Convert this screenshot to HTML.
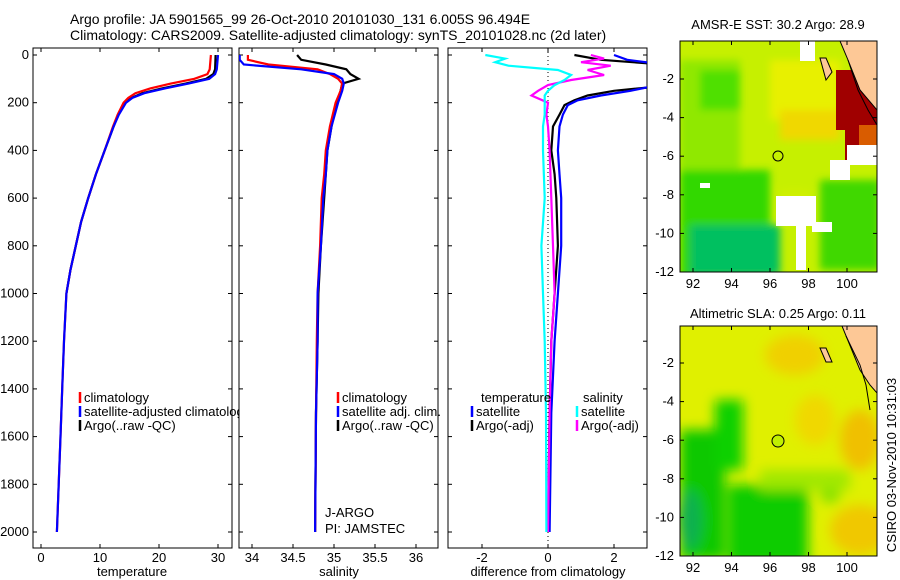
<!DOCTYPE html>
<html><head><meta charset="utf-8"><style>
body{margin:0;background:#fff;width:900px;height:580px;overflow:hidden}
svg{display:block;font-family:"Liberation Sans",sans-serif}
text{font-size:13px;fill:#000}
.title{font-size:14px}
</style></head><body>
<svg id="fig" width="900" height="580">
<defs>
<filter id="bl" x="-20%" y="-20%" width="140%" height="140%"><feGaussianBlur stdDeviation="6"/></filter>
<filter id="bl2" x="-20%" y="-20%" width="140%" height="140%"><feGaussianBlur stdDeviation="4"/></filter>
<clipPath id="c1"><rect x="33" y="48" width="199" height="500"/></clipPath>
<clipPath id="c2"><rect x="239" y="48" width="199" height="500"/></clipPath>
<clipPath id="c3"><rect x="448" y="48" width="199" height="500"/></clipPath>
<clipPath id="m1"><rect x="680" y="41" width="197" height="231"/></clipPath>
<clipPath id="m2"><rect x="680" y="326" width="197" height="230"/></clipPath>
<clipPath id="leg1"><rect x="33" y="380" width="206" height="60"/></clipPath>
</defs>
<text class="title" x="70" y="24">Argo profile: JA 5901565_99 26-Oct-2010 20101030_131 6.005S 96.494E</text>
<text class="title" x="70" y="40">Climatology: CARS2009. Satellite-adjusted climatology: synTS_20101028.nc (2d later)</text>

<g clip-path="url(#m1)">
<rect x="680" y="41" width="197" height="231" fill="#c6f000"/>
<g filter="url(#bl2)">
<rect x="680" y="60" width="60" height="120" fill="#90e800"/>
<rect x="700" y="70" width="40" height="40" fill="#50e000"/>
<rect x="770" y="60" width="70" height="60" fill="#e8f000"/>
<rect x="780" y="110" width="60" height="30" fill="#f0d800"/>
<rect x="680" y="170" width="90" height="110" fill="#30d800"/>
<rect x="690" y="225" width="90" height="50" fill="#00c060"/>
<rect x="820" y="180" width="60" height="90" fill="#40d800"/>
<rect x="780" y="190" width="30" height="30" fill="#d0f000"/>
</g>
<rect x="836" y="70" width="41" height="60" fill="#a00000"/>
<rect x="850" y="120" width="27" height="40" fill="#a00000"/>
<rect x="845" y="130" width="20" height="30" fill="#a00000"/>
<rect x="859" y="125" width="18" height="20" fill="#ff9900" opacity="0.6"/>
<rect x="776" y="196" width="40" height="30" fill="#fff"/>
<rect x="796" y="220" width="10" height="50" fill="#fff"/>
<rect x="812" y="222" width="20" height="10" fill="#fff"/>
<rect x="847" y="145" width="30" height="20" fill="#fff"/>
<rect x="830" y="160" width="20" height="20" fill="#fff"/>
<rect x="700" y="183" width="10" height="5" fill="#fff"/>
<rect x="800" y="41" width="15" height="20" fill="#fff"/>
<polygon points="840,41 877,41 877,110 860,90 848,60" fill="#fdc896" stroke="#000" stroke-width="1"/>
<polygon points="820,58 826,58 832,72 826,80" fill="#fdc896" stroke="#000"/>
<polyline points="848,60 858,90 868,110 877,125" fill="none" stroke="#000"/>
<circle cx="778" cy="156" r="5" fill="#c6f000" stroke="#000"/>
</g>
<rect x="680" y="41" width="197" height="231" fill="none" stroke="#000"/>
<text x="778" y="29" text-anchor="middle">AMSR-E SST: 30.2  Argo: 28.9</text>

<g clip-path="url(#m2)">
<rect x="680" y="326" width="197" height="230" fill="#e0f000"/>
<g filter="url(#bl)">
<ellipse cx="795" cy="355" rx="30" ry="20" fill="#f0d000"/>
<ellipse cx="860" cy="440" rx="20" ry="30" fill="#f0c000"/>
<ellipse cx="815" cy="420" rx="20" ry="25" fill="#f0d800"/>
<rect x="680" y="430" width="45" height="130" fill="#10c800"/>
<rect x="715" y="400" width="28" height="70" fill="#10d000"/>
<rect x="728" y="485" width="80" height="80" fill="#10cc00"/>
<ellipse cx="690" cy="520" rx="12" ry="30" fill="#10b050"/>
<ellipse cx="830" cy="495" rx="10" ry="8" fill="#80e000"/>
<rect x="760" y="470" width="90" height="20" fill="#a0e800"/>
<ellipse cx="860" cy="530" rx="30" ry="25" fill="#f0c800"/>
</g>
<polygon points="842,326 877,326 877,393 870,385 860,370" fill="#fdc896" stroke="#000"/>
<polygon points="820,348 826,348 832,362 826,362" fill="#fdc896" stroke="#000"/>
<polyline points="846,336 860,365 866,385 870,410" fill="none" stroke="#000"/>
<circle cx="778" cy="441" r="6" fill="#c0f000" stroke="#000"/>
</g>
<rect x="680" y="326" width="197" height="230" fill="none" stroke="#000"/>
<text x="778" y="318" text-anchor="middle">Altimetric SLA: 0.25  Argo: 0.11</text>
<text transform="translate(896,465) rotate(-90)" text-anchor="middle">CSIRO 03-Nov-2010 10:31:03</text>
<g id="dyn"></g>
</svg>
<script>
const depthTicks=[0,200,400,600,800,1000,1200,1400,1600,1800,2000];
const tempTicks=[0,10,20,30];
const salTicks=[34,34.5,35,35.5,36];
const salTickLabels=["34","34.5","35","35.5","36"];
const diffTicks=[-2,0,2];
const lonTicks=[92,94,96,98,100];
const latTicks=[-2,-4,-6,-8,-10,-12];
const tDepth=[0,60,80,100,120,140,160,180,200,250,300,400,500,600,700,800,900,1000,1200,1400,1600,1800,2000];
const tClim=[28.8,28.6,28.2,26,22,18.5,16,14.8,14,13,12.2,10.8,9.3,8,6.8,5.9,5.0,4.3,3.9,3.6,3.3,3,2.7];
const tSat=[30,29.8,29.5,28.5,25,21,17.5,15.5,14.4,13.2,12.3,10.8,9.3,8,6.8,5.9,5.0,4.3,3.9,3.6,3.3,3,2.7];
const tArgo=[29.6,29.5,29.2,28,24.5,20.5,17.2,15.3,14.3,13.1,12.3,10.8,9.3,8,6.8,5.9,5.0,4.3];
const sDepth=[0,20,40,60,80,100,120,150,200,300,400,500,600,800,1000,1200,1500,2000];
const sClim=[33.95,33.95,34.2,34.8,34.95,35.05,35.1,35.08,35.02,34.95,34.9,34.88,34.85,34.83,34.8,34.79,34.78,34.77];
const sSat=[33.85,33.85,33.9,34.6,35.0,35.1,35.12,35.1,35.05,34.97,34.92,34.9,34.87,34.84,34.8,34.8,34.78,34.77];
const sArgo=[34.55,34.6,34.9,35.15,35.2,35.3,35.1,35.08,35.03,34.97,34.92,34.9,34.88,34.84,34.81,34.8,34.78,34.77];
const dDepthT=[0,20,40,60,100,130,150,170,190,210,250,300,400,500,600,800,1000,1200,1500,2000];
const dTsat=[2.0,2.4,3.5,3.5,3.5,3.2,2.5,1.6,0.9,0.6,0.45,0.35,0.3,0.35,0.4,0.4,0.3,0.2,0.1,0.05];
const dTargo=[0.8,1.6,3.5,3.5,3.5,3.5,2.0,1.2,0.8,0.5,0.35,0.15,0.1,0.2,0.25,0.3,0.2,0.1,0.05,0.0];
const dDepthS=[0,15,30,45,63,84,105,126,150,170,200,250,300,400,600,800,1000,1200,1500,2000];
const dSsat=[-1.9,-1.3,-1.6,-1.2,0.3,0.7,0.5,0.2,0,-0.1,-0.1,-0.1,-0.15,-0.15,-0.1,-0.2,-0.15,-0.1,-0.06,-0.05];
const dSargo=[1.3,1.7,1.0,1.9,1.2,1.7,0.7,0.0,-0.3,-0.5,0,-0.05,0.0,0.05,0.1,0.15,0.2,0.1,0.05,0.0];

const NS="http://www.w3.org/2000/svg";
const G=document.getElementById('dyn');
function mk(tag,attrs,parent){const e=document.createElementNS(NS,tag);for(const k in attrs)e.setAttribute(k,attrs[k]);(parent||G).appendChild(e);return e;}
const yD=d=>55+d*0.2385;
const xT=t=>41+5.9*t;
const xS=s=>252+82*(s-34);
const xD=v=>548+33*v;
const xLon=l=>693+19.25*(l-92);
const yLat1=l=>79+19.3*(-2-l);
const yLat2=l=>363+19.3*(-2-l);

const panels=[{x:33,name:'temperature-panel'},{x:239,name:'salinity-panel'},{x:448,name:'difference-panel'}];
panels.forEach(p=>{
  const r=mk('rect',{x:p.x,y:48,width:199,height:500,fill:'#fff',stroke:'#000'});
  
  
  depthTicks.forEach(d=>{
    mk('line',{x1:p.x,x2:p.x+4,y1:yD(d),y2:yD(d),stroke:'#000'});
    mk('line',{x1:p.x+199,x2:p.x+195,y1:yD(d),y2:yD(d),stroke:'#000'});
  });
});
depthTicks.forEach(d=>{
  const t=mk('text',{x:29,y:yD(d)+4,'text-anchor':'end'});t.textContent=d;
  
  
});
function xticks(vals,labels,fx,name){
  vals.forEach((v,i)=>{
    mk('line',{x1:fx(v),x2:fx(v),y1:548,y2:544,stroke:'#000'});
    mk('line',{x1:fx(v),x2:fx(v),y1:48,y2:52,stroke:'#000'});
    const t=mk('text',{x:fx(v),y:562,'text-anchor':'middle'});t.textContent=labels[i];
    
    
  });
}
xticks(tempTicks,tempTicks.map(String),xT,'temperature-tick-label');
xticks(salTicks,salTickLabels,xS,'salinity-tick-label');
xticks(diffTicks,diffTicks.map(String),xD,'difference-tick-label');
[['temperature',132],['salinity',339],['difference from climatology',548]].forEach(a=>{
  const t=mk('text',{x:a[1],y:576,'text-anchor':'middle'});t.textContent=a[0];
  
  
});
mk('line',{x1:xD(0),x2:xD(0),y1:48,y2:548,stroke:'#000','stroke-dasharray':'1,3'});

function series(depths,vals,fx,color,clip,name){
  const pts=vals.map((v,i)=>fx(v).toFixed(1)+','+yD(depths[i]).toFixed(1)).join(' ');
  const l=mk('polyline',{points:pts,fill:'none',stroke:color,'stroke-width':2.2,'clip-path':'url(#'+clip+')'});
  
  
}
series(tDepth.slice(0,tArgo.length),tArgo,xT,'#000','c1','temp-argo-line');
series(tDepth,tClim,xT,'#f00','c1','temp-climatology-line');
series(tDepth,tSat,xT,'#00f','c1','temp-satellite-line');
series(sDepth,sArgo,xS,'#000','c2','sal-argo-line');
series(sDepth,sClim,xS,'#f00','c2','sal-climatology-line');
series(sDepth,sSat,xS,'#00f','c2','sal-satellite-line');
series(dDepthT,dTargo,xD,'#000','c3','diff-temp-argo-line');
series(dDepthT,dTsat,xD,'#00f','c3','diff-temp-satellite-line');
series(dDepthS,dSargo,xD,'#f0f','c3','diff-sal-argo-line');
series(dDepthS,dSsat,xD,'#0ff','c3','diff-sal-satellite-line');

function legend(x,y,color,label,clip){
  mk('line',{x1:x,x2:x,y1:y-10,y2:y+1,stroke:color,'stroke-width':2.5});
  const t=mk('text',{x:x+4,y:y});t.textContent=label;
  if(clip)t.setAttribute('clip-path','url(#'+clip+')');
  
  
}
legend(80,402,'#f00','climatology');
legend(80,416,'#00f','satellite-adjusted climatology','leg1');
legend(80,430,'#000','Argo(..raw -QC)');
legend(338,402,'#f00','climatology');
legend(338,416,'#00f','satellite adj. clim.');
legend(338,430,'#000','Argo(..raw -QC)');
const th=mk('text',{x:481,y:402});th.textContent='temperature';


const sh=mk('text',{x:583,y:402});sh.textContent='salinity';


legend(472,416,'#00f','satellite');
legend(472,430,'#000','Argo(-adj)');
legend(577,416,'#0ff','satellite');
legend(577,430,'#f0f','Argo(-adj)');
const j1=mk('text',{x:325,y:517});j1.textContent='J-ARGO';


const j2=mk('text',{x:325,y:533});j2.textContent='PI: JAMSTEC';



[[yLat1,41,272],[yLat2,326,556]].forEach(m=>{
  latTicks.forEach(l=>{
    mk('line',{x1:680,x2:684,y1:m[0](l),y2:m[0](l),stroke:'#000'});
    mk('line',{x1:877,x2:873,y1:m[0](l),y2:m[0](l),stroke:'#000'});
    const t=mk('text',{x:674,y:m[0](l)+4,'text-anchor':'end'});t.textContent=l;
    
    
  });
  lonTicks.forEach(l=>{
    mk('line',{x1:xLon(l),x2:xLon(l),y1:m[2],y2:m[2]-4,stroke:'#000'});
    mk('line',{x1:xLon(l),x2:xLon(l),y1:m[1],y2:m[1]+4,stroke:'#000'});
    const t=mk('text',{x:xLon(l),y:m[2]+16,'text-anchor':'middle'});t.textContent=l;
    
    
  });
});
</script>
</body></html>
